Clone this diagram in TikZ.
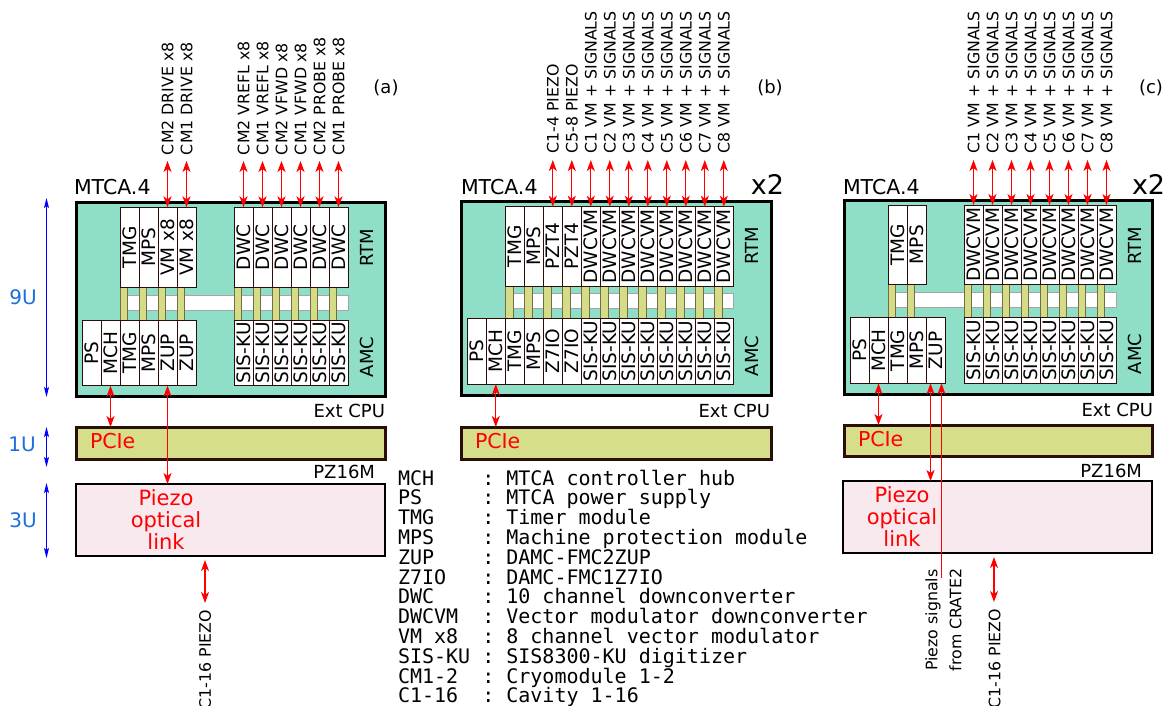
\documentclass[tikz,border=0pt]{standalone}
\usepackage{fontspec}
\setmainfont{DejaVu Sans}
\setmonofont{DejaVu Sans Mono}
\usetikzlibrary{arrows.meta}
\definecolor{mtcafill}{RGB}{142,222,200}
\definecolor{confill}{RGB}{212,220,136}
\definecolor{pciefill}{RGB}{215,222,138}
\definecolor{piezofill}{RGB}{247,233,238}
\definecolor{brd}{RGB}{43,14,8}
\definecolor{ublue}{RGB}{30,110,220}
\newcommand{\setfs}[1]{\fontsize{#1}{#1}\selectfont}
\begin{document}
\begin{tikzpicture}[x=1pt,y=-1pt,
  every node/.style={inner sep=0pt,outer sep=0pt},
  board/.style={draw=brd,fill=white,line width=0.8pt,rotate=90,minimum height=19pt,font=\setfs{18.5}},
  conn/.style={draw=brd!55!confill,fill=confill,line width=0.5pt},
  busbar/.style={draw=black!35,fill=white,line width=0.6pt},
  crate/.style={draw=black,fill=mtcafill,line width=3pt},
  pciebox/.style={draw=brd,fill=pciefill,line width=3pt},
  piezobox/.style={draw=black,fill=piezofill,line width=2pt},
  sig/.style={draw=red,line width=1.3pt,>={Stealth[length=11pt,width=8pt,inset=3pt]},<->},
  sigthin/.style={sig,line width=0.8pt},
  unitarrow/.style={draw=blue,line width=1.3pt,>={Stealth[length=10pt,width=5pt,inset=2pt]},<->},
  toplab/.style={rotate=90,anchor=west,font=\setfs{15.8}},
  botlab/.style={rotate=90,anchor=east,font=\setfs{15.8}},
  unitlab/.style={text=ublue,font=\setfs{20}},
  cratelab/.style={anchor=base west,font=\setfs{20.5}},
  xtwo/.style={font=\setfs{27}},
  sidelab/.style={rotate=90,font=\setfs{18}},
  smalllab/.style={anchor=base east,font=\setfs{18}},
  panellab/.style={font=\setfs{18}},
  redlab/.style={text=red,font=\setfs{20.5},anchor=base west},
  optlab/.style={text=red,align=center,font={\fontsize{21}{22}\selectfont}},
  legendtext/.style={anchor=base west,font={\ttfamily\setfs{20}}},
]
\fill[white] (0,0) rectangle (1164,706);
\useasboundingbox (0,0) rectangle (1164,706);

% ---------------- Panel (a) ----------------
\node[crate,minimum width=309.5pt,minimum height=194.5pt] (crateA) at (230.75,299.25) {};
\draw[busbar] (120,295) rectangle (348,310);
\foreach \x in {120,139,158,177,234,253,272,291,310,329} \draw[conn] (\x,287.3) rectangle ++(7.5,32.7);
\foreach \tx [count=\i from 0] in {TMG,MPS,VM x8,VM x8}
  \node[board,minimum width=80pt] (aR\i) at ({129.5+19*\i},247.3) {\tx};
\foreach \i in {0,...,5}
  \node[board,minimum width=80pt] (aD\i) at ({243.5+19*\i},247.3) {DWC};
\foreach \tx [count=\i from 0] in {PS,MCH,TMG,MPS,ZUP,ZUP}
  \node[board,minimum width=65.7pt] (aA\i) at ({91.5+19*\i},352.85) {\tx};
\foreach \i in {0,...,5}
  \node[board,minimum width=65.7pt] (aS\i) at ({243.5+19*\i},352.85) {SIS-KU};
\node[sidelab] (aRTM) at (367,248) {RTM};
\node[sidelab] (aAMC) at (367,357) {AMC};
\node[cratelab] (aMTCA) at (74,194) {MTCA.4};
\node[smalllab] (aExt) at (385,417) {Ext CPU};
\node[pciebox,minimum width=309pt,minimum height=32pt] (pcieA) at (230.5,443) {};
\node[redlab] (aPCIe) at (90,448) {PCIe};
\node[smalllab] (aPZ) at (375,478) {PZ16M};
\node[piezobox,minimum width=309.5pt,minimum height=72pt] (piezoA) at (230.25,520) {};
\node[optlab] (aOpt) at (166,519.5) {Piezo\\optical\\link};
\draw[sig] (aA1.west) -- (aA1.west |- pcieA.north);
\draw[sigthin] (aA4.west) -- (aA4.west |- piezoA.north);
\coordinate (aPzTop) at (205,560);
\coordinate (aPzBot) at (205,603);
\draw[sig] (aPzTop) -- (aPzBot);
\node[botlab] (aPzLab) at (205,610) {C1-16 PIEZO};
\foreach \nm/\tx in {aR2/CM2 DRIVE x8,aR3/CM1 DRIVE x8,aD0/CM2 VREFL x8,aD1/CM1 VREFL x8,aD2/CM2 VFWD x8,aD3/CM1 VFWD x8,aD4/CM2 PROBE x8,aD5/CM1 PROBE x8}{
  \coordinate (\nm-tip) at (\nm.east |- 0,161);
  \draw[sig] (\nm-tip) -- (\nm.east);
  \node[toplab] (\nm-lab) at (\nm.east |- 0,155) {\tx};
}
\node[panellab] (aTag) at (386,88) {(a)};
% unit scale
\coordinate (u9a) at (46.5,198); \coordinate (u9b) at (46.5,397);
\draw[unitarrow] (u9a) -- (u9b);
\node[unitlab] (u9) at (23,297) {9U};
\coordinate (u1a) at (46.5,427); \coordinate (u1b) at (46.5,467);
\draw[unitarrow] (u1a) -- (u1b);
\node[unitlab] (u1) at (22,444) {1U};
\coordinate (u3a) at (46.5,483); \coordinate (u3b) at (46.5,558);
\draw[unitarrow] (u3a) -- (u3b);
\node[unitlab] (u3) at (23,520) {3U};

% ---------------- Panel (b) ----------------
\node[crate,minimum width=310pt,minimum height=194pt] (crateB) at (616,298.5) {};
\draw[busbar] (505.3,293.3) rectangle (733.3,308.3);
\foreach \k in {0,...,11} \draw[conn] ({505.3+19*\k},286) rectangle ++(7.5,32.3);
\foreach \tx [count=\i from 0] in {TMG,MPS,PZT4,PZT4,DWCVM,DWCVM,DWCVM,DWCVM,DWCVM,DWCVM,DWCVM,DWCVM}
  \node[board,minimum width=79.3pt] (bR\i) at ({514.8+19*\i},246.35) {\tx};
\foreach \tx [count=\i from 0] in {PS,MCH,TMG,MPS,Z7IO,Z7IO,SIS-KU,SIS-KU,SIS-KU,SIS-KU,SIS-KU,SIS-KU,SIS-KU,SIS-KU}
  \node[board,minimum width=65.7pt] (bA\i) at ({476.8+19*\i},351.15) {\tx};
\node[sidelab] (bRTM) at (751.5,246) {RTM};
\node[sidelab] (bAMC) at (751.5,356) {AMC};
\node[cratelab] (bMTCA) at (461,194) {MTCA.4};
\node[xtwo,anchor=base east] (bX2) at (784,194) {x2};
\node[smalllab] (bExt) at (770,417) {Ext CPU};
\node[pciebox,minimum width=310pt,minimum height=32pt] (pcieB) at (616,443) {};
\node[redlab] (bPCIe) at (475,448) {PCIe};
\draw[sig] (bA1.west) -- (bA1.west |- pcieB.north);
\foreach \k/\tx in {2/C1-4 PIEZO,3/C5-8 PIEZO,4/C1 VM + SIGNALS,5/C2 VM + SIGNALS,6/C3 VM + SIGNALS,7/C4 VM + SIGNALS,8/C5 VM + SIGNALS,9/C6 VM + SIGNALS,10/C7 VM + SIGNALS,11/C8 VM + SIGNALS}{
  \coordinate (bT\k) at (bR\k.east |- 0,160);
  \draw[sig] (bT\k) -- (bR\k.east);
  \node[toplab] (bL\k) at (bR\k.east |- 0,153.5) {\tx};
}
\node[panellab] (bTag) at (770,88) {(b)};

% legend
\foreach \abbr/\desc [count=\i from 0] in {MCH/MTCA controller hub,PS/MTCA power supply,TMG/Timer module,MPS/Machine protection module,ZUP/DAMC-FMC2ZUP,Z7IO/DAMC-FMC1Z7IO,DWC/10 channel downconverter,DWCVM/Vector modulator downconverter,VM x8/8 channel vector modulator,SIS-KU/SIS8300-KU digitizer,CM1-2/Cryomodule 1-2,C1-16/Cavity 1-16}
  \node[legendtext] (leg\i) at (398,{485+19.8*\i}) {\makebox[84.3pt][l]{\abbr}: \desc};

% ---------------- Panel (c) ----------------
\node[crate,minimum width=308pt,minimum height=194pt] (crateC) at (998,297) {};
\draw[busbar] (888,292.3) rectangle (1116,307.7);
\foreach \x in {888,907,964,983,1002,1021,1040,1059,1078,1097} \draw[conn] (\x,284.3) rectangle ++(7.5,33.4);
\foreach \tx [count=\i from 0] in {TMG,MPS}
  \node[board,minimum width=79.3pt] (cR\i) at ({897.5+19*\i},244.65) {\tx};
\foreach \i in {0,...,7}
  \node[board,minimum width=79.3pt] (cD\i) at ({973.5+19*\i},244.65) {DWCVM};
\foreach \tx [count=\i from 0] in {PS,MCH,TMG,MPS,ZUP}
  \node[board,minimum width=65.6pt] (cA\i) at ({859.5+19*\i},350.5) {\tx};
\foreach \i in {0,...,7}
  \node[board,minimum width=65.6pt] (cS\i) at ({973.5+19*\i},350.5) {SIS-KU};
\node[sidelab] (cRTM) at (1135,246) {RTM};
\node[sidelab] (cAMC) at (1135,354) {AMC};
\node[cratelab] (cMTCA) at (843,194) {MTCA.4};
\node[xtwo,anchor=base west] (cX2) at (1132,194) {x2};
\node[smalllab] (cExt) at (1153,416) {Ext CPU};
\node[pciebox,minimum width=308pt,minimum height=31.5pt] (pcieC) at (998,440.75) {};
\node[redlab] (cPCIe) at (858,446) {PCIe};
\node[smalllab] (cPZ) at (1142,477) {PZ16M};
\node[piezobox,minimum width=308.5pt,minimum height=72pt] (piezoC) at (997.25,517) {};
\node[optlab] (cOpt) at (902,516.5) {Piezo\\optical\\link};
\draw[sig] (cA1.west) -- (cA1.west |- pcieC.north);
\coordinate (cZ1) at ([xshift=-5pt]cA4.west);
\draw[sigthin] (cZ1) -- (cZ1 |- piezoC.north);
\coordinate (cZ2) at ([xshift=6pt]cA4.west);
\coordinate (cZ2end) at (cZ2 |- 0,578);
\draw[sigthin,<-] (cZ2) -- (cZ2end);
\node[rotate=90,align=center,font={\fontsize{15.8}{24}\selectfont}] (cSigLab) at (943.5,620) {Piezo signals\\from CRATE2};
\coordinate (cPzTop) at (994,557);
\coordinate (cPzBot) at (994,602);
\draw[sig] (cPzTop) -- (cPzBot);
\node[botlab] (cPzLab) at (994.5,609) {C1-16 PIEZO};
\foreach \k in {0,...,7}{
  \pgfmathtruncatemacro{\cn}{\k+1}
  \coordinate (cT\k) at (cD\k.east |- 0,160);
  \draw[sig] (cT\k) -- (cD\k.east);
  \node[toplab] (cL\k) at (cD\k.east |- 0,153.5) {C\cn{} VM + SIGNALS};
}
\node[panellab,anchor=west] (cTag) at (1139,88) {(c)};
\end{tikzpicture}
\end{document}
